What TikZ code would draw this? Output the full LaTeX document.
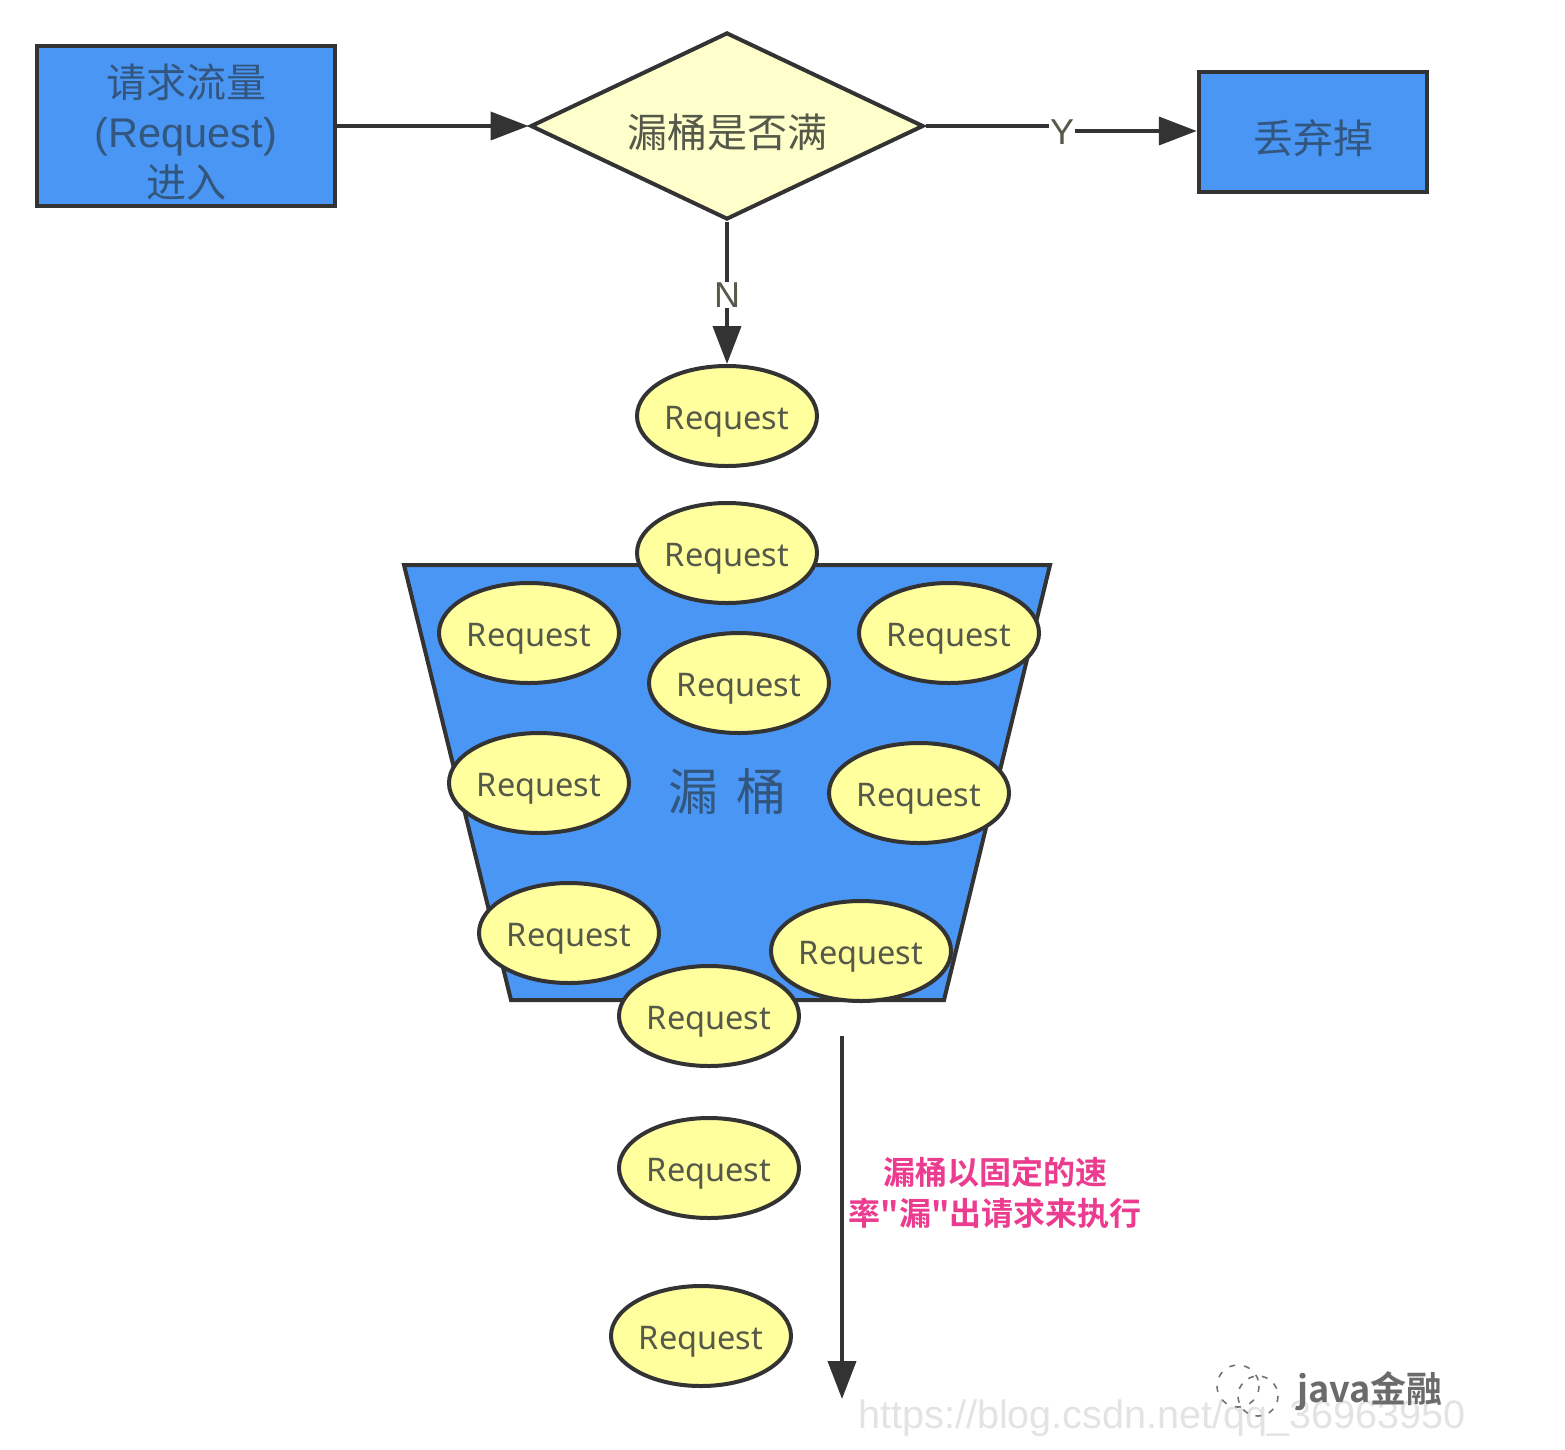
\documentclass[tikz,border=0pt]{standalone}
\usepackage{fontspec}
\setmainfont{Liberation Sans}
\newfontfamily\cjk{Noto Sans CJK SC}
\newfontfamily\cjkb{Noto Sans CJK SC Bold}
\newfontfamily\reqfont{Noto Sans}
\usetikzlibrary{shapes.geometric,arrows.meta}
\definecolor{blueFill}{HTML}{4A96F5}
\definecolor{ovalFill}{HTML}{FFFF9E}
\definecolor{diaFill}{HTML}{FFFFCC}
\definecolor{edge}{HTML}{333333}
\definecolor{blueText}{HTML}{33567E}
\definecolor{yelText}{HTML}{55594A}
\definecolor{pinkText}{HTML}{EC3C8F}
\tikzset{
  x=1pt,y=-1pt,
  bluebox/.style={draw=edge,line width=4.5pt,fill=blueFill,inner sep=0pt,text=blueText,align=center},
  decide/.style={diamond,aspect=2.1,draw=edge,line width=4pt,fill=diaFill,inner sep=0pt,minimum width=393pt,minimum height=187pt,text height=46pt,text depth=4pt,text=yelText,font=\cjk\fontsize{40}{50}\selectfont},
  req/.style={ellipse,draw=edge,line width=4pt,fill=ovalFill,inner sep=0pt,minimum width=180pt,minimum height=100pt,text height=33pt,text depth=6pt,text=yelText,font=\reqfont\fontsize{32.5}{38}\selectfont},
  conn/.style={draw=edge,line width=4pt,-{Triangle[length=38pt,width=28pt]}},
  edgelabel/.style={fill=white,inner sep=1pt,text=yelText,font=\fontsize{36}{40}\selectfont},
}
\begin{document}
\begin{tikzpicture}
\useasboundingbox (0,0) rectangle (1565,1449);
% bucket
\draw[draw=edge,line width=4pt,fill=blueFill,line join=miter] (404,565) -- (1050,565) -- (944,1000) -- (511,1000) -- cycle;
\node[text=blueText,font=\cjk\fontsize{50}{56}\selectfont] (bucket) at (727,791) {漏\hspace{18pt}桶};
% top row
\node[bluebox,minimum width=298pt,minimum height=160pt,font=\fontsize{40}{50}\selectfont] (in) at (186,126) {\rule{0pt}{46pt}{\cjk 请求流量}\\{\fontsize{41.5}{50}\selectfont (Request)}\\{\cjk 进入}};
\node[decide] (dec) at (727,126) {漏桶是否满};
\node[bluebox,minimum width=228pt,minimum height=120pt,text height=46pt,text depth=4pt,font=\cjk\fontsize{40}{50}\selectfont] (drop) at (1313,132) {丢弃掉};
% requests
\node[req] (r1) at (727,416) {Request};
\node[req] (r2) at (727,553) {Request};
\node[req] (r3) at (529,633) {Request};
\node[req] (r4) at (949,633) {Request};
\node[req] (r5) at (739,683) {Request};
\node[req] (r6) at (539,783) {Request};
\node[req] (r7) at (919,793) {Request};
\node[req] (r8) at (569,933) {Request};
\node[req] (r9) at (861,951) {Request};
\node[req] (r10) at (709,1016) {Request};
\node[req] (r11) at (709,1168) {Request};
\node[req] (r12) at (701,1336) {Request};
% connectors
\draw[conn] (in.east |- dec.west) -- (dec.west);
\coordinate (yb) at (1062,126);
\coordinate (yc) at (1062,131);
\draw[conn] (dec.east) -- (yb) -- (yc) -- (drop.west |- yc);
\node[edgelabel] (ylab) at (1062,132) {Y};
\draw[conn] (dec.south) -- (r1.north);
\node[edgelabel] (nlab) at (727,295) {N};
\coordinate (ratetop) at (842,1036);
\coordinate (ratebot) at (842,1399);
\draw[conn] (ratetop) -- (ratebot);
\node[text=pinkText,align=center,inner sep=0pt,font=\cjkb\fontsize{32}{41}\selectfont] (rate) at (995,1193) {漏桶以固定的速\\率"漏"出请求来执行};
% watermark
\node[text=black!11,inner sep=0pt,anchor=west,font=\fontsize{39.6}{44}\selectfont] (wm) at (858,1418) {https://blog.csdn.net/qq\_36963950};
\node[text=black!58,inner sep=0pt,anchor=west,font=\cjkb\fontsize{36}{40}\selectfont] (jv) at (1297,1391) {java金融};
\draw[black!55,line width=1.6pt,dash pattern=on 6pt off 9pt] (1238,1386) circle[radius=21];
\draw[black!55,line width=1.6pt,dash pattern=on 6pt off 8pt] (1258,1396) circle[radius=20];
\end{tikzpicture}
\end{document}
